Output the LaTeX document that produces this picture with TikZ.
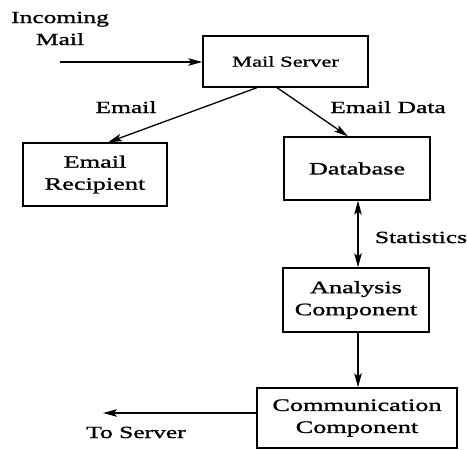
\documentclass[tikz,border=0pt]{standalone}
\usepackage{fontspec}
\setmainfont[FakeStretch=1.5,FakeBold=1.2]{Liberation Serif}
\usetikzlibrary{arrows.meta}
\begin{document}
\begin{tikzpicture}[x=1pt,y=-1pt,
  tip/.tip={Stealth[length=14pt,width=7.5pt,inset=3pt]},
  box/.style={draw,line width=1.3pt,inner sep=0pt,align=center,font=\fontsize{17.5}{22}\selectfont},
  lbl/.style={inner sep=0pt,align=center,font=\fontsize{17}{22}\selectfont},
  arr/.style={line width=1.3pt,-tip},
  darr/.style={line width=1.3pt,tip-tip}]
\useasboundingbox (0,0) rectangle (467,450);
\node[box,minimum width=165pt,minimum height=51pt,font=\fontsize{15}{20}\selectfont] (ms) at (285.5,61.5) {Mail Server};
\node[box,minimum width=144pt,minimum height=63pt] (er) at (95,174.5) {Email\\Recipient};
\node[box,minimum width=146pt,minimum height=63pt] (db) at (357,168.5) {Database};
\node[box,minimum width=146pt,minimum height=64pt] (an) at (356,300) {Analysis\\Component};
\node[box,minimum width=200pt,minimum height=60pt] (cc) at (357,418) {Communication\\Component};
\coordinate (in) at (60,62);
\coordinate (out) at (103,413);
\node[lbl,anchor=base] (incl) at (60,45) {Incoming\\Mail};
\node[lbl,anchor=base] (eml) at (126,113) {Email};
\node[lbl,anchor=base] (edl) at (388,113) {Email Data};
\node[lbl,anchor=base] (stl) at (421,243) {Statistics};
\node[lbl,anchor=base] (tsl) at (136,438) {To Server};
\draw[arr] (in) -- (in -| ms.west);
\draw[arr] ([xshift=-28.5pt]ms.south) -- ([xshift=13pt]er.north);
\draw[arr] ([xshift=-8.5pt]ms.south) -- ([xshift=-9pt]db.north);
\draw[darr] ([xshift=1pt]db.south) -- ([xshift=2pt]an.north);
\draw[arr] ([xshift=2pt]an.south) -- ([xshift=1pt]cc.north);
\draw[arr] (cc.west |- out) -- (out);
\end{tikzpicture}
\end{document}
